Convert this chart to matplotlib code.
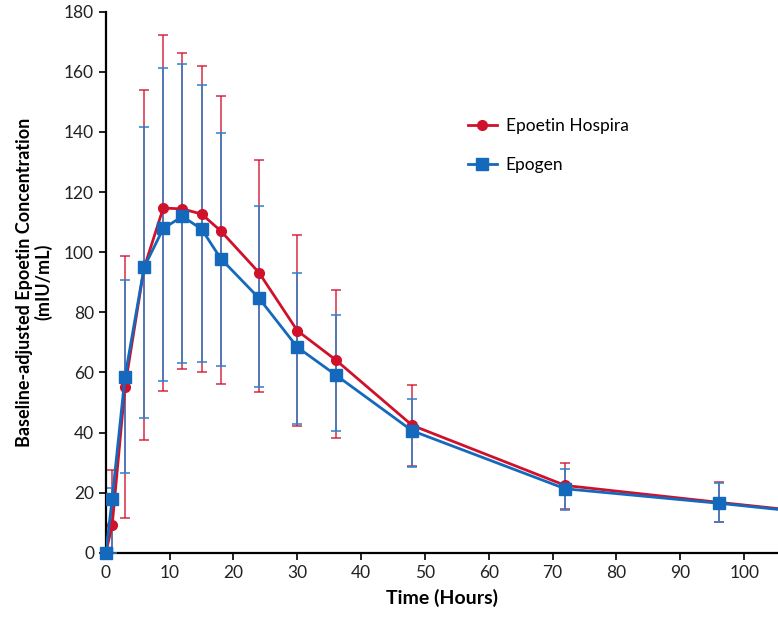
import numpy as np
import matplotlib.pyplot as plt

plt.rcParams['font.family'] = ['Lato', 'DejaVu Sans']

# sampling times (hours)
time = [0, 1, 3, 6, 9, 12, 15, 18, 24, 30, 36, 48, 72, 96, 120]

# Epoetin Hospira
hospira = [0, 9.3, 55.2, 94.8, 114.7, 114.4, 112.7, 107.1, 93.2, 73.9, 64.2, 42.4, 22.4, 16.8, 11.4]
hospira_hi = [0, 27.6, 98.6, 153.8, 172.2, 166.2, 162.0, 151.9, 130.6, 105.8, 87.5, 55.9, 30.0, 23.4, 11.4]
hospira_lo = [0, 0, 11.6, 37.6, 53.7, 61.1, 60.3, 56.2, 53.5, 42.2, 38.2, 28.9, 14.6, 10.4, 11.4]

# Epogen
epogen = [0, 18.0, 58.5, 95.0, 107.9, 111.9, 107.7, 97.9, 84.7, 68.4, 59.2, 40.6, 21.3, 16.5, 11.2]
epogen_hi = [0, 21.6, 90.6, 141.8, 161.3, 162.6, 155.5, 139.8, 115.3, 93.0, 79.2, 51.2, 27.8, 23.1, 11.2]
epogen_lo = [0, 0, 26.6, 45.0, 57.2, 63.1, 63.4, 62.2, 55.3, 42.8, 40.4, 28.7, 14.3, 10.2, 11.2]

red = '#d0112b'
blue = '#1469bd'

fig = plt.figure(figsize=(7.78, 6.17), dpi=100)
ax = fig.add_axes([0.136, 0.104, 0.864, 0.877])

t = np.array(time)
h = np.array(hospira)
e = np.array(epogen)
h_err = [h - np.array(hospira_lo), np.array(hospira_hi) - h]
e_err = [e - np.array(epogen_lo), np.array(epogen_hi) - e]

ax.errorbar(t, h, yerr=h_err, fmt='none', ecolor=red, elinewidth=1.3,
            capsize=3.5, capthick=1.3, alpha=0.75, zorder=2)
ax.errorbar(t, e, yerr=e_err, fmt='none', ecolor='#2f7fcc', elinewidth=1.3,
            capsize=3.5, capthick=1.3, alpha=0.85, zorder=3)
ax.plot(t, h, color=red, lw=2, marker='o', ms=7, label='Epoetin Hospira',
        zorder=4, clip_on=True)
ax.plot(t, e, color=blue, lw=2, marker='s', ms=8, label='Epogen',
        zorder=5, clip_on=True)
# keep the t=0 markers fully visible on the axis corner
ax.plot(t[:1], h[:1], 'o', color=red, ms=7, clip_on=False, zorder=6)
ax.plot(t[:1], e[:1], 's', color=blue, ms=8, clip_on=False, zorder=7)

ax.set_xlim(0, 105.3)
ax.set_ylim(0, 180)
ax.set_xticks(np.arange(0, 101, 10))
ax.set_yticks(np.arange(0, 181, 20))
ax.spines['top'].set_visible(False)
ax.spines['right'].set_visible(False)
ax.spines['left'].set_linewidth(1.6)
ax.spines['bottom'].set_linewidth(1.6)
ax.tick_params(direction='out', length=5, width=1.4, labelsize=12.5, colors='#222222')

ax.set_xlabel('Time (Hours)', fontsize=14, fontweight='bold', labelpad=6)
ax.set_ylabel('Baseline-adjusted Epoetin Concentration\n(mIU/mL)', fontsize=13,
              fontweight='bold', labelpad=8, linespacing=1.1)

ax.legend(loc='upper left', bbox_to_anchor=(0.528, 0.816), frameon=False,
          fontsize=12.5, handlelength=1.7, handletextpad=0.5,
          labelspacing=1.3, borderaxespad=0)

fig.savefig('out.png', dpi=100)
